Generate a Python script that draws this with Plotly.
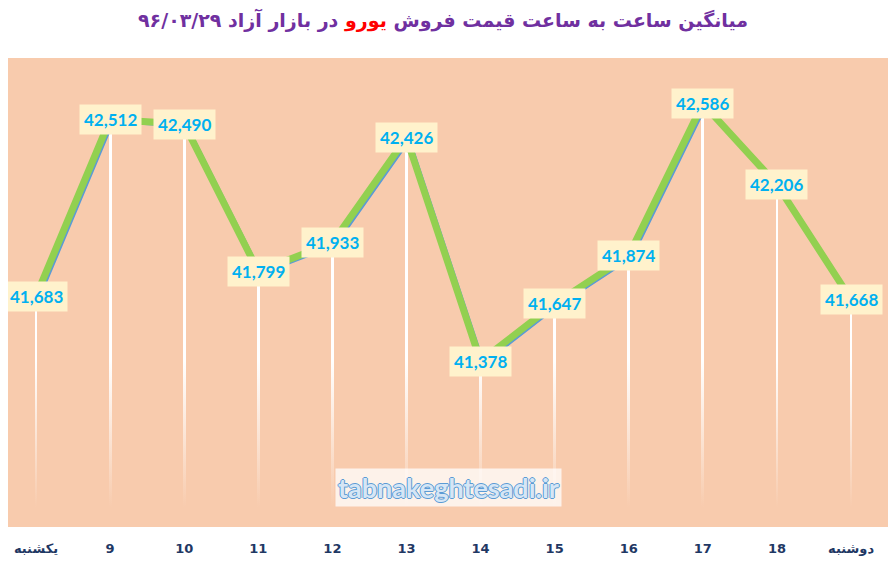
import plotly.graph_objects as go

# hourly averages, 1396/03/29
hours = ["یکشنبه", "9", "10", "11", "12", "13", "14", "15", "16", "17", "18", "دوشنبه"]
prices = [41683, 42512, 42490, 41799, 41933, 42426, 41378, 41647, 41874, 42586, 42206, 41668]

pos = list(range(len(hours)))
y_min, y_max = 40600, 42800
x_rng = [-0.378, len(hours) - 0.501]
peach = "rgba(248,203,173,1)"

fig = go.Figure()

# white drop lines from each point to the floor
fig.add_trace(go.Bar(
    x=pos, y=[p - y_min for p in prices], base=y_min,
    width=0.038, marker=dict(color="white", line=dict(width=0)),
    hoverinfo="skip", showlegend=False,
))

# fade the drop lines towards the bottom
fig.add_trace(go.Scatter(
    x=[x_rng[0], x_rng[1], x_rng[1], x_rng[0]],
    y=[y_min, y_min, 41380, 41380],
    mode="lines", line=dict(width=0), fill="toself",
    fillgradient=dict(type="vertical", start=y_min, stop=41380,
                      colorscale=[[0, peach], [0.12, peach],
                                  [1, "rgba(248,203,173,0)"]]),
    hoverinfo="skip", showlegend=False,
))

# thin blue line sitting just under the green one
fig.add_trace(go.Scatter(
    x=pos, y=prices, mode="lines",
    line=dict(color="#5B9BD5", width=3),
    xaxis="x2", yaxis="y2", hoverinfo="skip", showlegend=False,
))
fig.add_trace(go.Scatter(
    x=pos, y=prices, mode="lines",
    line=dict(color="#92D050", width=7),
    xaxis="x3", yaxis="y3", showlegend=False,
))

# value labels
for i, p in zip(pos, prices):
    fig.add_annotation(
        x=i, y=p, text=f"<b>{p:,}</b>", showarrow=False,
        bgcolor="#FFF2CC", borderpad=4,
        font=dict(family="Lato", size=17, color="#00B0F0"),
    )

# watermark
fig.add_annotation(
    xref="paper", yref="paper", x=0.5, y=0.085,
    xanchor="center", yanchor="middle",
    text="<b>tabnakeghtesadi.ir</b>", showarrow=False,
    bgcolor="rgba(255,255,255,0.75)", borderpad=2,
    font=dict(family="Lato", size=27, color="#D6E6F5",
              shadow="1px 0 #5B9BD5, -1px 0 #5B9BD5, 0 1px #5B9BD5, 0 -1px #5B9BD5"),
)

fig.update_layout(
    width=896, height=565,
    margin=dict(l=0, r=16, t=50, b=46, autoexpand=False),
    paper_bgcolor="white",
    plot_bgcolor="#F8CBAD",
    bargap=0,
    title=dict(
        text="<b>میانگین ساعت به ساعت قیمت فروش <span style='color:#FF0000'>یورو</span> در بازار آزاد ۹۶/۰۳/۲۹</b>",
        x=0.4855, xanchor="center", y=0.979, yanchor="middle",
        font=dict(family="DejaVu Sans", size=19, color="#7030A0"),
    ),
    xaxis=dict(
        range=x_rng, tickvals=pos, ticktext=[f"<b>{h}</b>" for h in hours],
        showgrid=False, zeroline=False, showline=False, automargin=False,
        ticks="outside", ticklen=9, tickcolor="rgba(0,0,0,0)",
        tickfont=dict(family="DejaVu Sans", size=13, color="#1F3864"),
    ),
    yaxis=dict(range=[y_min, y_max], visible=False),
    xaxis2=dict(range=[x_rng[0] - 0.04, x_rng[1] - 0.04], overlaying="x", visible=False),
    yaxis2=dict(range=[y_min + 10, y_max + 10], overlaying="y", visible=False),
    xaxis3=dict(range=x_rng, overlaying="x", visible=False),
    yaxis3=dict(range=[y_min, y_max], overlaying="y", visible=False),
)

fig.write_html("out.html")
